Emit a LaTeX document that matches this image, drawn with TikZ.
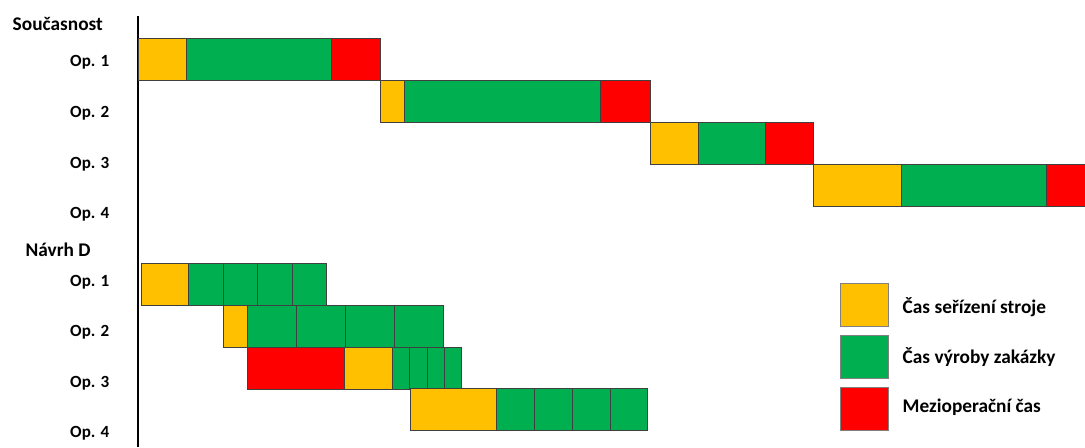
\documentclass[tikz,border=0pt]{standalone}
\usepackage{fontspec}
\setmainfont{Carlito}
\usepackage{xcolor}
\usepackage{tikz}
\usetikzlibrary{positioning}

\definecolor{setupyel}{HTML}{FFC000}
\definecolor{prodgrn}{HTML}{00B050}
\definecolor{waitred}{HTML}{FF0000}

% one bar segment: name, style, x from, x to, top y
\newcommand{\gseg}[5]{%
  \node[seg,#2,minimum width={(#4-#3)*0.75pt}] (#1) at (#3,#5) {};}

\begin{document}
\begin{tikzpicture}[x=0.75pt,y=-0.75pt,
  seg/.style={draw=black!75,line width=0.6pt,inner sep=0pt,outer sep=0pt,
              anchor=north west,minimum height=31.5pt},
  setup/.style={fill=setupyel},
  prod/.style={fill=prodgrn},
  wait/.style={fill=waitred},
  head/.style={anchor=west,font=\fontsize{14.5}{17}\selectfont\bfseries},
  oplab/.style={anchor=east,font=\fontsize{12.8}{15}\selectfont\bfseries},
  key/.style={draw=black!50,line width=0.6pt,inner sep=0pt,anchor=north west,
              minimum width=36pt,minimum height=32pt},
  keytext/.style={anchor=west,font=\fontsize{14.5}{17}\selectfont\bfseries}
]
\useasboundingbox (0,0) rectangle (1085,447);

% axis
\coordinate (axtop) at (138,16);
\coordinate (axbot) at (138,447);
\draw[line width=1.6pt] (axtop)--(axbot);

% current state
\node[head] (cur) at (8,24) {Současnost};
\node[oplab] (c1) at (114,62) {Op. 1};
\node[oplab] (c2) at (114,113) {Op. 2};
\node[oplab] (c3) at (114,164) {Op. 3};
\node[oplab] (c4) at (114,214) {Op. 4};

\gseg{c1s}{setup}{138}{186}{38}
\gseg{c1p}{prod}{186}{331}{38}
\gseg{c1w}{wait}{331}{380}{38}
\gseg{c2s}{setup}{380}{404}{80}
\gseg{c2p}{prod}{404}{600}{80}
\gseg{c2w}{wait}{600}{650}{80}
\gseg{c3s}{setup}{650}{698}{122}
\gseg{c3p}{prod}{698}{765}{122}
\gseg{c3w}{wait}{765}{813}{122}
\gseg{c4s}{setup}{813}{901}{164}
\gseg{c4p}{prod}{901}{1046}{164}
\gseg{c4w}{wait}{1046}{1086}{164}

% proposal D
\node[head] (nav) at (21,250) {Návrh D};
\node[oplab] (d1) at (114,282) {Op. 1};
\node[oplab] (d2) at (114,332) {Op. 2};
\node[oplab] (d3) at (114,383) {Op. 3};
\node[oplab] (d4) at (114,433) {Op. 4};

\gseg{d1s}{setup}{141}{188}{263}
\foreach \a/\b [count=\i] in {188/223,223/257,257/292,292/326}
  {\gseg{d1p\i}{prod}{\a}{\b}{263}}
\gseg{d2s}{setup}{223}{247}{305}
\foreach \a/\b [count=\i] in {247/296,296/345,345/394,394/443}
  {\gseg{d2p\i}{prod}{\a}{\b}{305}}
\gseg{d3w}{wait}{247}{344}{347}
\gseg{d3s}{setup}{344}{392}{347}
\foreach \a/\b [count=\i] in {392/409,409/427,427/444,444/461}
  {\gseg{d3p\i}{prod}{\a}{\b}{347}}
\gseg{d4s}{setup}{410}{496}{388}
\foreach \a/\b [count=\i] in {496/534,534/572,572/610,610/647}
  {\gseg{d4p\i}{prod}{\a}{\b}{388}}

% legend
\node[key,fill=setupyel] (k1) at (840,283) {};
\node[key,fill=prodgrn] (k2) at (840,335) {};
\node[key,fill=waitred] (k3) at (840,387) {};
\node[keytext] (t1) at (898,307) {Čas seřízení stroje};
\node[keytext] (t2) at (898,357) {Čas výroby zakázky};
\node[keytext] (t3) at (898,407) {Mezioperační čas};
\end{tikzpicture}
\end{document}
